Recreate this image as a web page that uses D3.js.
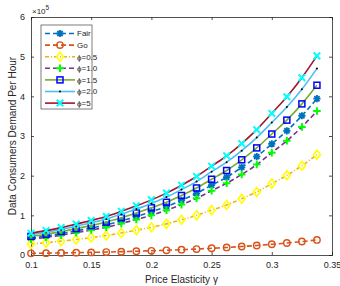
<!DOCTYPE html>
<meta charset="utf-8">
<style>
  body { margin: 0; background: #fff; }
  svg { display: block; font-family: "Liberation Sans", Arial, sans-serif; }
  .tick text { fill: #262626; font-size: 9px; }
</style>
<svg></svg>
<script src="https://cdn.jsdelivr.net/npm/d3@7"></script>
<script>
// price elasticity values (x)
var gamma = [0.1, 0.1125, 0.125, 0.1375, 0.15, 0.1625, 0.175, 0.1875, 0.2, 0.2125,
             0.225, 0.2375, 0.25, 0.2625, 0.275, 0.2875, 0.3, 0.3125, 0.325, 0.3375];

// demand per hour, in units of 1e5
var fair  = [0.43, 0.48, 0.54, 0.61, 0.68, 0.76, 0.86, 0.97, 1.09, 1.22, 1.38, 1.55, 1.76, 1.96, 2.21, 2.48, 2.80, 3.13, 3.51, 3.94];
var go    = [0.042, 0.047, 0.052, 0.059, 0.066, 0.074, 0.084, 0.094, 0.106, 0.119, 0.134, 0.150, 0.170, 0.190, 0.214, 0.240, 0.271, 0.303, 0.340, 0.38];
var phi05 = [0.28, 0.31, 0.35, 0.39, 0.44, 0.49, 0.555, 0.625, 0.70, 0.785, 0.89, 1.00, 1.13, 1.26, 1.42, 1.59, 1.80, 2.01, 2.25, 2.53];
var phi10 = [0.40, 0.445, 0.50, 0.565, 0.63, 0.70, 0.795, 0.895, 1.00, 1.13, 1.27, 1.43, 1.62, 1.81, 2.03, 2.28, 2.58, 2.88, 3.23, 3.63];
var phi15 = [0.47, 0.525, 0.59, 0.665, 0.74, 0.83, 0.94, 1.06, 1.19, 1.33, 1.50, 1.69, 1.91, 2.13, 2.40, 2.70, 3.05, 3.40, 3.81, 4.28];
var phi20 = [0.515, 0.575, 0.645, 0.73, 0.815, 0.91, 1.03, 1.16, 1.30, 1.46, 1.65, 1.85, 2.10, 2.34, 2.63, 2.96, 3.34, 3.73, 4.18, 4.70];
var phi5  = [0.55, 0.615, 0.69, 0.78, 0.87, 0.97, 1.10, 1.24, 1.39, 1.56, 1.76, 1.98, 2.24, 2.50, 2.81, 3.16, 3.57, 3.99, 4.47, 5.02];

var seriesNames = ["Fair", "Go", "\u03d5=0.5", "\u03d5=1.0", "\u03d5=1.5", "\u03d5=2.0", "\u03d5=5"];
var xTicks = [0.1, 0.15, 0.2, 0.25, 0.3, 0.35];
var yTicks = [0, 1, 2, 3, 4, 5, 6];

// line + marker styles per series
var styles = [
  {values: fair,  line: "#0072BD", dash: "5,3",     marker: "star",    mcolor: "#0072BD"},
  {values: go,    line: "#D95319", dash: "5,3",     marker: "circle",  mcolor: "#D95319"},
  {values: phi05, line: "#EDB120", dash: "4,2,1,2", marker: "diamond", mcolor: "#FFFF00"},
  {values: phi10, line: "#7E2F8E", dash: "5,3",     marker: "plus",    mcolor: "#00FF00"},
  {values: phi15, line: "#77AC30", dash: null,      marker: "square",  mcolor: "#0000FF"},
  {values: phi20, line: "#4DBEEE", dash: null,      marker: "dot",     mcolor: "#000000"},
  {values: phi5,  line: "#A2142F", dash: null,      marker: "cross",   mcolor: "#00FFFF"}
];

var svg = d3.select("svg").attr("width", 340).attr("height", 286),
    margin = {top: 17, right: 8, bottom: 31, left: 31},
    width = 340 - margin.left - margin.right,
    height = 286 - margin.top - margin.bottom;

var g = svg.append("g").attr("transform", "translate(" + margin.left + "," + margin.top + ")");

var x = d3.scaleLinear().domain([0.1, 0.35]).range([0, width]);
var y = d3.scaleLinear().domain([0, 6]).range([height, 0]);

// axes, ticks pointing inward like matlab
function styleAxis(sel) {
  sel.select(".domain").attr("stroke", "#262626").attr("stroke-width", 0.8);
  sel.selectAll(".tick line").attr("stroke", "#262626").attr("stroke-width", 0.8);
}
g.append("g").attr("transform", "translate(0," + height + ")")
  .call(d3.axisBottom(x).tickValues(xTicks).tickSize(-3).tickPadding(7).tickFormat(d3.format("")))
  .call(styleAxis);
g.append("g")
  .call(d3.axisTop(x).tickValues(xTicks).tickSize(-3).tickFormat(""))
  .call(styleAxis);
g.append("g")
  .call(d3.axisLeft(y).tickValues(yTicks).tickSize(-3).tickPadding(6).tickFormat(d3.format("d")))
  .call(styleAxis);
g.append("g").attr("transform", "translate(" + width + ",0)")
  .call(d3.axisRight(y).tickValues(yTicks).tickSize(-3).tickFormat(""))
  .call(styleAxis);
svg.selectAll(".tick text").attr("font-family", null).attr("font-size", null);

// exponent label
var ex = svg.append("text").attr("x", 32).attr("y", 14).attr("fill", "#262626").attr("font-size", 8);
ex.append("tspan").text("\u00d710");
ex.append("tspan").attr("dy", -4).attr("font-size", 6.5).text("5");

// axis titles
svg.append("text")
  .attr("x", margin.left + width / 2).attr("y", 283)
  .attr("text-anchor", "middle").attr("font-size", 10).attr("fill", "#262626")
  .text("Price Elasticity \u03b3");
svg.append("text")
  .attr("transform", "translate(16," + (margin.top + height / 2) + ") rotate(-90)")
  .attr("text-anchor", "middle").attr("font-size", 10).attr("fill", "#262626")
  .text("Data Consumers Demand Per Hour");

// marker drawing
function drawMarker(sel, type, color) {
  if (type === "circle") {
    sel.append("circle").attr("r", 3.2).attr("fill", "none").attr("stroke", color).attr("stroke-width", 1.4);
  } else if (type === "square") {
    sel.append("rect").attr("x", -3).attr("y", -3).attr("width", 6).attr("height", 6)
      .attr("fill", "none").attr("stroke", color).attr("stroke-width", 1.5);
  } else if (type === "diamond") {
    sel.append("path").attr("d", "M0,-4.5L3.5,0L0,4.5L-3.5,0Z")
      .attr("fill", "none").attr("stroke", color).attr("stroke-width", 1.6);
  } else if (type === "plus") {
    sel.append("path").attr("d", "M-3.8,0H3.8M0,-3.8V3.8")
      .attr("stroke", color).attr("stroke-width", 2);
  } else if (type === "cross") {
    sel.append("path").attr("d", "M-3.3,-3.3L3.3,3.3M-3.3,3.3L3.3,-3.3")
      .attr("stroke", color).attr("stroke-width", 2);
  } else if (type === "star") {
    sel.append("path").attr("d", "M-3.6,0H3.6M0,-3.6V3.6M-2.6,-2.6L2.6,2.6M-2.6,2.6L2.6,-2.6")
      .attr("stroke", color).attr("stroke-width", 1.8);
  } else if (type === "dot") {
    sel.append("circle").attr("r", 1).attr("fill", color);
  }
}

var line = d3.line()
  .curve(d3.curveMonotoneX)
  .x(function(d, i) { return x(gamma[i]); })
  .y(function(d) { return y(d); });

styles.forEach(function(s) {
  var sg = g.append("g");
  sg.append("path")
    .datum(s.values)
    .attr("d", line)
    .attr("fill", "none")
    .attr("stroke", s.line)
    .attr("stroke-width", 1.6)
    .attr("stroke-dasharray", s.dash);
  sg.selectAll("g.m")
    .data(s.values)
    .enter().append("g")
    .attr("class", "m")
    .attr("transform", function(d, i) { return "translate(" + x(gamma[i]) + "," + y(d) + ")"; })
    .each(function() { drawMarker(d3.select(this), s.marker, s.mcolor); });
});

// legend
var legend = svg.append("g").attr("transform", "translate(41,25)");
legend.append("rect")
  .attr("width", 51).attr("height", 84)
  .attr("fill", "#fff").attr("stroke", "#262626").attr("stroke-width", 0.6);
styles.forEach(function(s, i) {
  var row = legend.append("g").attr("transform", "translate(0," + (8.5 + i * 11.6) + ")");
  row.append("line")
    .attr("x1", 4).attr("x2", 34)
    .attr("stroke", s.line).attr("stroke-width", 1.6)
    .attr("stroke-dasharray", s.dash);
  drawMarker(row.append("g").attr("transform", "translate(19,0)"), s.marker, s.mcolor);
  row.append("text")
    .attr("x", 36).attr("dy", "0.35em")
    .attr("font-size", 8).attr("fill", "#262626")
    .text(seriesNames[i]);
});
</script>
